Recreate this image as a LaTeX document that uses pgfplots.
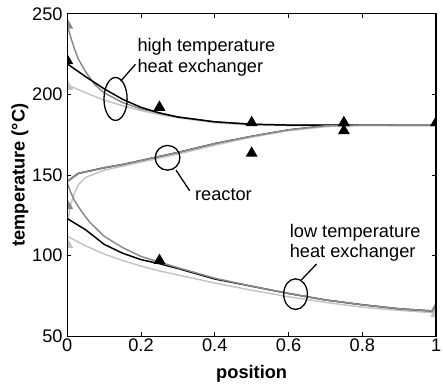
\documentclass[border=0pt]{standalone}
\usepackage{fontspec}
\setmainfont{Liberation Sans}
\usepackage{pgfplots}
\pgfplotsset{compat=1.18}
\definecolor{dg}{RGB}{138,138,138}
\definecolor{lg}{RGB}{196,196,196}
\begin{document}
\begin{tikzpicture}
\begin{axis}[name=ax,
  scale only axis, width=373bp, height=326bp,
  xmin=0, xmax=1, ymin=50, ymax=250,
  xtick={0,0.2,0.4,0.6,0.8,1}, ytick={50,100,150,200,250},
  tick align=inside, major tick length=4bp,
  every tick/.style={black, line width=0.8bp},
  axis line style={line width=1.3bp},
  axis on top=true,
  clip marker paths=true,
  /pgf/number format/assume math mode=true,
  tick label style={font=\fontsize{18.5}{20}\selectfont},
  xticklabel style={inner sep=2.5bp},
  yticklabel style={inner sep=4.5bp},
  label style={font=\fontsize{18.5}{20}\selectfont\bfseries},
  xlabel={position},
  ylabel={temperature (°C)},
  xlabel style={at={(axis description cs:0.5,-0.1319)}, anchor=base},
  ylabel style={at={(axis description cs:-0.1153,0.5)}, anchor=base},
  every axis plot/.append style={line width=1.5bp},
]
% ---- high temperature heat exchanger
\addplot[lg, no marks] coordinates {(0,206) (0.05,201) (0.1,196.5) (0.15,193) (0.2,190) (0.25,187.5) (0.3,185.5) (0.4,182.5) (0.5,181) (0.6,180.7) (0.8,180.6) (1,180.5)};
\addplot[dg, no marks] coordinates {(0,243) (0.01,235) (0.02,228) (0.03,222) (0.05,214) (0.075,206) (0.1,201) (0.15,195) (0.2,191) (0.25,188.5) (0.3,186) (0.4,183) (0.5,181.5) (0.6,181) (0.8,181) (1,181)};
\addplot[black, no marks] coordinates {(0,219) (0.05,211) (0.1,203.5) (0.15,197) (0.2,192) (0.25,188.5) (0.3,186) (0.4,183) (0.5,181.5) (0.6,181) (0.8,181) (1,181)};
% ---- reactor
\addplot[black, no marks] coordinates {(0,146) (0.03,151) (0.1,154.5) (0.15,156.5) (0.2,159) (0.25,161.5) (0.3,164) (0.4,169.5) (0.5,174) (0.6,178) (0.7,180.5) (0.8,181) (1,181)};
\addplot[lg, no marks] coordinates {(0,120) (0.01,132) (0.02,139) (0.03,144) (0.05,148.5) (0.1,153) (0.15,155.5) (0.2,158) (0.25,160.5) (0.3,163) (0.4,168.5) (0.5,173.5) (0.6,177.5) (0.7,180) (0.8,180.8) (1,181)};
\addplot[dg, no marks] coordinates {(0,146) (0.03,151) (0.1,154.5) (0.15,156.5) (0.2,159) (0.25,161.5) (0.3,164) (0.4,169.5) (0.5,174) (0.6,178) (0.7,180.5) (0.8,181) (1,181)};
% ---- low temperature heat exchanger
\addplot[lg, no marks] coordinates {(0,112) (0.05,106) (0.1,101) (0.15,97) (0.2,93.5) (0.25,90.5) (0.3,88) (0.4,83) (0.5,78.5) (0.6,74.5) (0.7,71) (0.8,68) (0.9,66) (1,64.5)};
\addplot[black, no marks] coordinates {(0,123) (0.05,116) (0.1,107) (0.15,101.5) (0.2,97.5) (0.25,95) (0.3,92) (0.4,85.5) (0.5,81) (0.6,76.5) (0.7,72.5) (0.8,69.5) (0.9,67) (1,65.5)};
\addplot[dg, no marks] coordinates {(0,145) (0.01,139) (0.02,134) (0.04,127) (0.06,121) (0.1,112) (0.15,105) (0.2,99.5) (0.25,96) (0.3,92.5) (0.4,86) (0.5,81) (0.6,76.5) (0.7,72.5) (0.8,69.5) (0.9,67) (1,65.5)};
% ---- measurements
\addplot[only marks, mark=triangle*, mark size=5.5bp, dg, mark options={fill=dg, draw=dg}] coordinates {(0,243) (0,131) (1,67)};
\addplot[only marks, mark=triangle*, mark size=5.5bp, lg, mark options={fill=lg, draw=lg}] coordinates {(0,205) (0,107) (1,64)};
\addplot[only marks, mark=triangle*, mark size=5.5bp, black, mark options={fill=black}] coordinates {(0,221) (0.25,97) (0.25,192) (0.5,182.5) (0.5,163.5) (0.75,182.5) (0.75,177.5) (1,182.5)};
% ---- annotations
\draw[line width=1.3bp] (axis cs:0.131,197.2) ellipse [x radius=11.7bp, y radius=21.7bp];
\draw[line width=1.3bp] (axis cs:0.145,208.3) -- (axis cs:0.185,218.7);
\draw[line width=1.3bp] (axis cs:0.272,160.7) ellipse [x radius=12.5bp, y radius=12.5bp];
\draw[line width=1.3bp] (axis cs:0.295,153) -- (axis cs:0.332,140.2);
\draw[line width=1.3bp] (axis cs:0.619,76.1) ellipse [x radius=12bp, y radius=15.5bp];
\draw[line width=1.3bp] (axis cs:0.635,85) -- (axis cs:0.676,94.8);
\begin{scope}[every node/.style={inner sep=0pt, anchor=base west, font=\fontsize{18.5}{20}\selectfont}]
\node at (axis cs:0.19,226.4) {high temperature};
\node at (axis cs:0.19,213.8) {heat exchanger};
\node at (axis cs:0.346,134) {reactor};
\node at (axis cs:0.603,111.3) {low temperature};
\node at (axis cs:0.603,98.7) {heat exchanger};
\end{scope}
\end{axis}
\pgfresetboundingbox
\path[use as bounding box] ([xshift=-68bp,yshift=-50bp]ax.south west) rectangle ([xshift=7bp,yshift=14bp]ax.north east);
\end{tikzpicture}
\end{document}
